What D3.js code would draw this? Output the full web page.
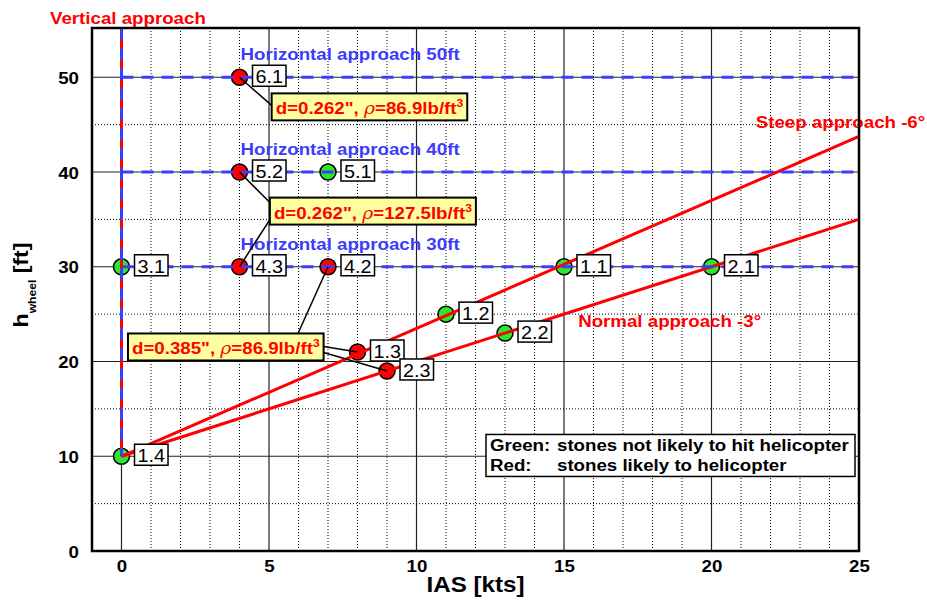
<!DOCTYPE html>
<html><head><meta charset="utf-8">
<script src="https://cdn.jsdelivr.net/npm/d3@7"></script>
<style>body{margin:0;background:#fff}svg{display:block}</style>
</head><body>
<svg id="c" width="927" height="600"></svg>
<script>
// ---------- data ----------
const xTicks = [0, 5, 10, 15, 20, 25];
const yTicks = [0, 10, 20, 30, 40, 50];
const pointIds = ["6.1","5.2","5.1","3.1","4.3","4.2","1.1","2.1","1.2","2.2","1.3","2.3","1.4"];
const pointIAS = [4, 4, 7, 0, 4, 7, 15, 20, 11, 13, 8, 9, 0];
const pointH   = [50, 40, 40, 30, 30, 30, 30, 30, 25, 23, 21, 19, 10];
const pointHit = [1, 1, 0, 0, 1, 1, 0, 0, 0, 0, 1, 1, 0];
const horizLevels = [50, 40, 30];
const horizLabels = ["Horizontal approach 50ft", "Horizontal approach 40ft", "Horizontal approach 30ft"];
const steepIAS = [0, 25], steepH = [10, 43.75];
const normalIAS = [0, 25], normalH = [10, 35];
const verticalIAS = [0, 0], verticalH = [10, 55.2];
const annoD = ["0.262", "0.262", "0.385"];
const annoRho = ["86.9", "127.5", "86.9"];
const annoPoints = [["6.1"], ["5.2", "4.3"], ["4.2", "1.3", "2.3"]];
const legendLines = [["Green:", "stones not likely to hit helicopter"], ["Red:", "stones likely to helicopter"]];

// ---------- layout ----------
const svg = d3.select("#c");
const L = 92, R = 859, T = 28, B = 551;
const x = d3.scaleLinear().domain([-1, 25]).range([L, R]);
const y = d3.scaleLinear().domain([0, 55.2]).range([B, T]);
const FONT = "'Liberation Sans', Arial, Helvetica, sans-serif";
const SX = 1.1;
const RED = "#ff0000", BLUE = "#3c3cff", GREEN = "#2de62d";

function stext(g, px, py, str, o = {}) {
  const t = g.append("text")
    .attr("transform", `translate(${px},${py}) scale(${SX},1)`)
    .attr("font-family", FONT)
    .attr("font-size", o.size || 17)
    .attr("font-weight", o.weight || "bold")
    .attr("fill", o.fill || "#000")
    .attr("text-anchor", o.anchor || "start");
  if (str != null) t.text(str);
  return t;
}

// grid
const grid = svg.append("g");
d3.range(1, 25).filter(v => v % 5 !== 0).forEach(v =>
  grid.append("line").attr("x1", x(v)).attr("x2", x(v)).attr("y1", T).attr("y2", B)
    .attr("stroke", "#000").attr("stroke-width", 1).attr("stroke-dasharray", "1,2"));
[5, 15, 25, 35, 45].forEach(v =>
  grid.append("line").attr("x1", L).attr("x2", R).attr("y1", y(v)).attr("y2", y(v))
    .attr("stroke", "#000").attr("stroke-width", 1).attr("stroke-dasharray", "1,2"));
xTicks.filter(v => v < 25).forEach(v =>
  grid.append("line").attr("x1", x(v)).attr("x2", x(v)).attr("y1", T).attr("y2", B)
    .attr("stroke", "#222").attr("stroke-width", 1.2));
yTicks.filter(v => v > 0).forEach(v =>
  grid.append("line").attr("x1", L).attr("x2", R).attr("y1", y(v)).attr("y2", y(v))
    .attr("stroke", "#222").attr("stroke-width", 1.2));

// axes (labels only, no tick marks)
const xAxis = d3.axisBottom(x).tickValues(xTicks).tickSize(0).tickPadding(0);
const gx = svg.append("g").attr("transform", `translate(0,${B})`).call(xAxis);
const yAxis = d3.axisLeft(y).tickValues(yTicks).tickSize(0).tickPadding(0);
const gy = svg.append("g").attr("transform", `translate(${L},0)`).call(yAxis);
[gx, gy].forEach(g => { g.select(".domain").remove(); g.selectAll(".tick text").remove(); });
gx.selectAll(".tick").each(function (d) {
  stext(d3.select(this), 0, 21, String(d), { anchor: "middle" });
});
gy.selectAll(".tick").each(function (d) {
  stext(d3.select(this), -13, 6, String(d), { anchor: "end" });
});

// markers
const byId = {};
pointIds.forEach((id, i) => byId[id] = { cx: x(pointIAS[i]), cy: y(pointH[i]) });
svg.append("g").selectAll("circle").data(pointIds).join("circle")
  .attr("cx", (d, i) => x(pointIAS[i])).attr("cy", (d, i) => y(pointH[i])).attr("r", 8)
  .attr("fill", (d, i) => pointHit[i] ? RED : GREEN).attr("stroke", "#000").attr("stroke-width", 1.5);

// approach lines
const line = d3.line().x(d => x(d[0])).y(d => y(d[1]));
const lines = svg.append("g").attr("fill", "none");
lines.append("path").attr("d", line(steepIAS.map((v, i) => [v, steepH[i]]))).attr("stroke", RED).attr("stroke-width", 3);
lines.append("path").attr("d", line(normalIAS.map((v, i) => [v, normalH[i]]))).attr("stroke", RED).attr("stroke-width", 3);
horizLevels.forEach(h =>
  lines.append("path").attr("d", line([[0, h], [25, h]])).attr("stroke", BLUE).attr("stroke-width", 3).attr("stroke-dasharray", "12,8"));
const vdata = verticalIAS.map((v, i) => [v, verticalH[i]]);
lines.append("path").attr("d", line(vdata)).attr("stroke", RED).attr("stroke-width", 3);
lines.append("path").attr("d", line(vdata.slice().reverse())).attr("stroke", BLUE).attr("stroke-width", 3).attr("stroke-dasharray", "12,8");

// line labels
const lab = svg.append("g");
stext(lab, 50, 24, "Vertical approach", { fill: RED });
horizLevels.forEach((h, i) => stext(lab, x(4) + 1, y(h) - 17, horizLabels[i], { fill: BLUE }));
stext(lab, x(21.5), y(44.6), "Steep approach -6°", { fill: RED });
stext(lab, x(15.48), y(23.6), "Normal approach -3°", { fill: RED });

// annotation boxes with leaders
const annoTL = [[5.09, 48.3], [5.03, 37.3], [0.22, 22.96]];
const annoG = svg.append("g");
annoD.forEach((d, i) => {
  const bx = x(annoTL[i][0]), by = y(annoTL[i][1]);
  const g = annoG.append("g");
  const leaders = g.append("g");
  const rect = g.append("rect").attr("x", bx).attr("y", by).attr("height", 27)
    .attr("fill", "#ffffa0").attr("stroke", "#000").attr("stroke-width", 2);
  const t = stext(g, bx + 4, by + 21, null, { fill: RED });
  t.append("tspan").text(`d=${d}", `);
  t.append("tspan").attr("font-weight", "normal").attr("font-style", "italic").attr("font-family", "'DejaVu Serif', serif").text("ρ");
  t.append("tspan").text(`=${annoRho[i]}lb/ft`);
  t.append("tspan").attr("font-size", 11).attr("dy", -7).text("3");
  const w = t.node().getComputedTextLength() * SX + 8;
  rect.attr("width", w);
  const anchors = i === 0 ? [[bx, by + 12]]
    : i === 1 ? [[bx, by + 5], [bx, by + 22]]
    : [[bx + 170, by], [bx + w, by + 13], [bx + w, by + 19]];
  annoPoints[i].forEach((id, k) => {
    const p = byId[id];
    leaders.append("line").attr("x1", p.cx).attr("y1", p.cy).attr("x2", anchors[k][0]).attr("y2", anchors[k][1])
      .attr("stroke", "#000").attr("stroke-width", 1.5);
  });
});
annoG.lower(); annoG.raise();
// make leaders go beneath markers? keep leaders above grid but below labels
// point labels
const pl = svg.append("g");
pointIds.forEach(id => {
  const p = byId[id];
  const g = pl.append("g");
  const rect = g.append("rect").attr("x", p.cx + 13).attr("y", p.cy - 12).attr("height", 21)
    .attr("fill", "#fff").attr("stroke", "#000").attr("stroke-width", 1.5);
  const t = stext(g, p.cx + 16, p.cy + 6, id, { size: 18, weight: "normal" });
  rect.attr("width", t.node().getComputedTextLength() * SX + 6);
});

// legend
const lg = svg.append("g");
const lgx = R - 373, lgy = y(12.3);
lg.append("rect").attr("x", lgx).attr("y", lgy).attr("width", 369).attr("height", 42)
  .attr("fill", "#fff").attr("stroke", "#000").attr("stroke-width", 1.5);
legendLines.forEach((ln, i) => {
  stext(lg, lgx + 4, lgy + 17 + i * 20, ln[0]);
  stext(lg, lgx + 71, lgy + 17 + i * 20, ln[1]);
});

// frame
svg.append("rect").attr("x", L).attr("y", T).attr("width", R - L).attr("height", B - T)
  .attr("fill", "none").attr("stroke", "#000").attr("stroke-width", 2.5);

// axis titles
stext(svg, (L + R) / 2, 592, "IAS [kts]", { size: 22, anchor: "middle" });
const yt = svg.append("text")
  .attr("transform", `translate(28,285) rotate(-90) scale(${SX},1)`)
  .attr("font-family", FONT).attr("font-weight", "bold").attr("font-size", 21).attr("text-anchor", "middle");
yt.append("tspan").text("h");
yt.append("tspan").attr("font-size", 11).attr("dy", 8).text("wheel");
yt.append("tspan").attr("dy", -8).text(" [ft]");
</script>
</body></html>
